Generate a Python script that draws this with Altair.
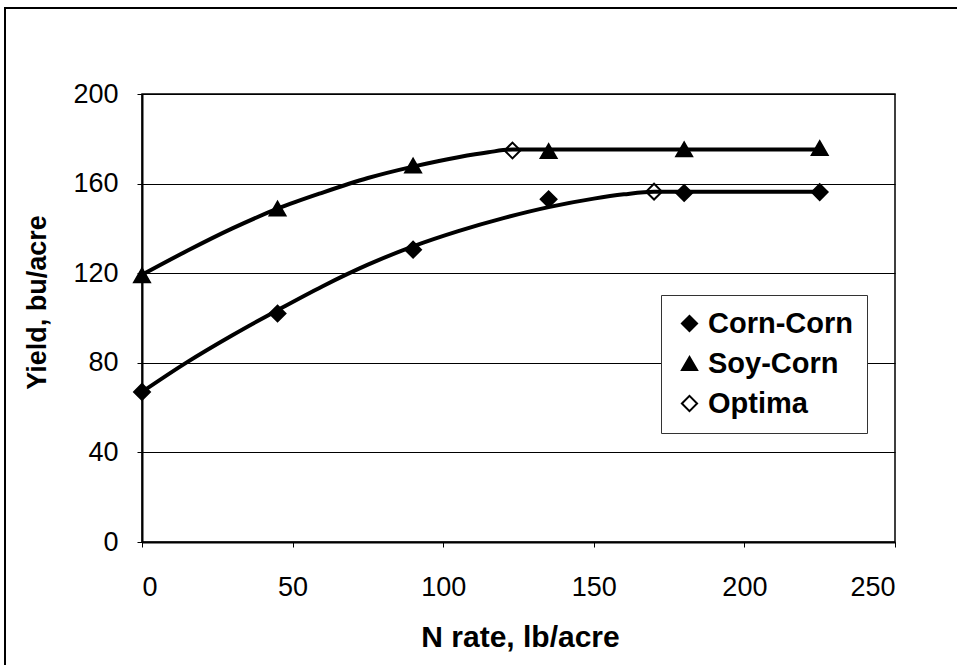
import altair as alt
import pandas as pd

# ---- data ----
series = ["Corn-Corn", "Soy-Corn", "Optima"]

n_rate = [0, 45, 90, 135, 180, 225]
corn_yield = [67, 102, 130.5, 153, 155.8, 156.2]
soy_yield = [119, 148.8, 168, 174.5, 175.3, 175.8]

optima_n = [123, 170]
optima_yield = [174.8, 156.4]

# fitted response curves
corn_curve_n = [0, 15, 30, 45, 60, 75, 90, 105, 120, 135, 150, 160, 170, 225]
corn_curve_y = [67, 80.3, 92.3, 103.5, 114.2, 123.8, 132, 138.8, 144.6, 149.5,
                153.3, 155.2, 156.4, 156.4]
soy_curve_n = [0, 15, 30, 45, 60, 75, 90, 105, 115, 123, 225]
soy_curve_y = [119.3, 130, 140, 148.8, 156, 162.5, 167.6, 171.8, 174, 175.2, 175.2]

FONT = "Liberation Sans"

pts = pd.concat(
    [
        pd.DataFrame({"n": n_rate, "y": corn_yield, "series": "Corn-Corn"}),
        pd.DataFrame({"n": n_rate, "y": soy_yield, "series": "Soy-Corn"}),
        pd.DataFrame({"n": optima_n, "y": optima_yield, "series": "Optima"}),
    ],
    ignore_index=True,
)
curves = pd.concat(
    [
        pd.DataFrame({"n": corn_curve_n, "y": corn_curve_y, "series": "Corn-Corn"}),
        pd.DataFrame({"n": soy_curve_n, "y": soy_curve_y, "series": "Soy-Corn"}),
    ],
    ignore_index=True,
)

xscale = alt.Scale(domain=[0, 250], nice=False, zero=False)
yscale = alt.Scale(domain=[0, 200], nice=False)

xaxis = alt.Axis(
    values=[0, 50, 100, 150, 200, 250],
    grid=False,
    title="N rate, lb/acre",
    titleFontSize=30,
    titleFontWeight="bold",
    titleFont=FONT,
    titleX=378,
    titleY=95,
    titleBaseline="middle",
    labelFont=FONT,
    labelFontSize=27,
    labelPadding=27,
    labelColor="black",
    tickSize=5,
    tickColor="black",
    domainColor="black",
    domainWidth=2,
)
yaxis = alt.Axis(
    values=[0, 40, 80, 120, 160, 200],
    grid=True,
    gridColor="black",
    gridWidth=1,
    title="Yield, bu/acre",
    titleFontSize=27,
    titleFontWeight="bold",
    titleFont=FONT,
    titleAngle=270,
    titleX=-105,
    titleY=208,
    titleAlign="center",
    titleBaseline="middle",
    labelFont=FONT,
    labelFontSize=27,
    labelPadding=19,
    labelColor="black",
    tickSize=5,
    tickColor="black",
    domainColor="black",
    domainWidth=2,
)

frame = alt.Chart(pd.DataFrame({"a": [0]})).mark_rect(
    fillOpacity=0, stroke="black", strokeWidth=2
).encode(
    x=alt.value(-137), x2=alt.value(830), y=alt.value(-86), y2=alt.value(600)
)

lines = alt.Chart(curves).mark_line(
    color="black", strokeWidth=4, interpolate="monotone"
).encode(
    x=alt.X("n:Q", scale=xscale, axis=xaxis),
    y=alt.Y("y:Q", scale=yscale, axis=yaxis),
    detail="series:N",
)

points = alt.Chart(pts).mark_point(
    filled=True, strokeWidth=2, opacity=1, size=250
).encode(
    x=alt.X("n:Q", scale=xscale),
    y=alt.Y("y:Q", scale=yscale),
    shape=alt.Shape(
        "series:N",
        scale=alt.Scale(domain=series, range=["diamond", "triangle-up", "diamond"]),
        legend=alt.Legend(title=None),
    ),
    fill=alt.Fill(
        "series:N",
        scale=alt.Scale(domain=series, range=["black", "black", "transparent"]),
        legend=alt.Legend(title=None),
    ),
    stroke=alt.Stroke(
        "series:N",
        scale=alt.Scale(domain=series, range=["black", "black", "black"]),
        legend=alt.Legend(title=None),
    ),
    order=alt.Order("series:N"),
)

chart = (
    alt.layer(frame, lines, points)
    .properties(
        width=753,
        height=448,
        autosize=alt.AutoSizeParams(type="none"),
        padding={"left": 142, "top": 94, "right": 62, "bottom": 123},
        background="white",
    )
    .configure_view(stroke="black", strokeWidth=1.5)
    .configure_legend(
        orient="none",
        legendX=519,
        legendY=201,
        padding=14,
        strokeColor="#333",
        fillColor="white",
        labelFont=FONT,
        labelFontSize=29,
        labelFontWeight="bold",
        labelColor="black",
        labelOffset=4,
        symbolSize=230,
        symbolStrokeWidth=2,
        rowPadding=10,
    )
)

chart.save("out.html", embed_options={"renderer": "svg", "actions": False})
